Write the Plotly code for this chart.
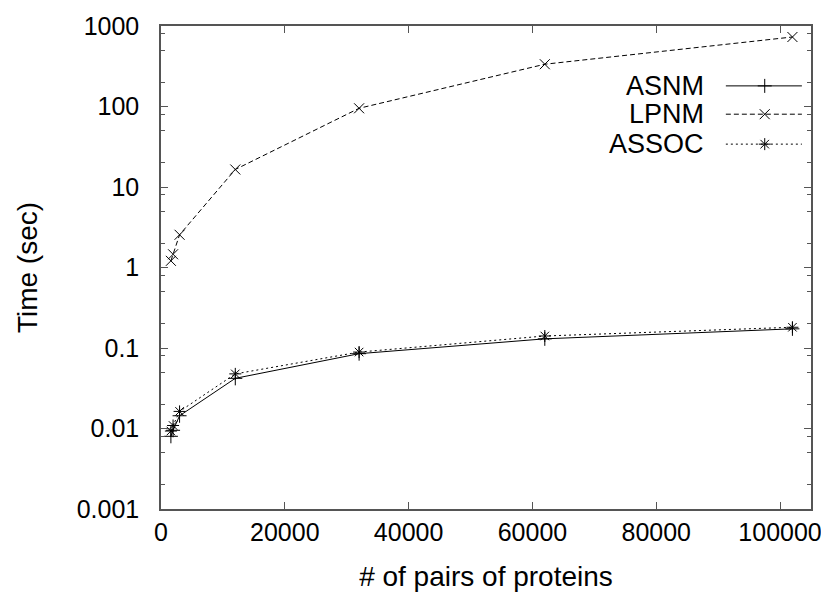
import plotly.graph_objects as go

# ---- data ----
pairs = [1600, 1950, 3000, 12000, 32000, 62000, 102000]
asnm = [0.0080, 0.0095, 0.0144, 0.042, 0.085, 0.130, 0.173]
lpnm = [1.21, 1.46, 2.55, 16.5, 95, 335, 730]
assoc = [0.0093, 0.0109, 0.0163, 0.0477, 0.089, 0.141, 0.181]

series_names = ["ASNM", "LPNM", "ASSOC"]
series_values = [asnm, lpnm, assoc]
series_dash = ["solid", "5px,3px", "2px,3px"]
series_symbol = ["cross-thin-open", "x-thin-open", "asterisk-open"]

x_ticks = [0, 20000, 40000, 60000, 80000, 100000]
y_ticks = [0.001, 0.01, 0.1, 1, 10, 100, 1000]
y_ticklabels = ["0.001", "0.01", "0.1", "1", "10", "100", "1000"]
y_minor = [m * 10 ** k for k in range(-3, 3) for m in (2, 5, 8)]

FONT = "Liberation Sans, Arial, Helvetica, sans-serif"
AXC = "#555555"

fig = go.Figure()
for name, vals, dash, sym in zip(series_names, series_values, series_dash, series_symbol):
    fig.add_trace(go.Scatter(
        x=pairs, y=vals, name=name, mode="lines+markers",
        line=dict(color="black", width=1, dash=dash),
        marker=dict(symbol=sym, size=10, color="black", line=dict(color="black", width=1)),
        showlegend=False,
    ))

# custom legend (text on the left, sample on the right) on an overlay axis
leg_y = [0.876, 0.8174, 0.7554]
for name, dash, sym, yy in zip(series_names, series_dash, series_symbol, leg_y):
    fig.add_trace(go.Scatter(
        x=[0.869, 0.986], y=[yy, yy], mode="lines", xaxis="x2", yaxis="y2",
        line=dict(color="black", width=1, dash=dash), showlegend=False, hoverinfo="skip"))
    fig.add_trace(go.Scatter(
        x=[0.9288], y=[yy], mode="markers", xaxis="x2", yaxis="y2",
        marker=dict(symbol=sym, size=10, color="black", line=dict(color="black", width=1)),
        showlegend=False, hoverinfo="skip"))
    fig.add_annotation(x=0.838, y=yy, xref="paper", yref="paper", text=name,
                       showarrow=False, xanchor="right", yanchor="middle",
                       font=dict(family=FONT, size=27, color="black"))

fig.update_layout(
    width=829, height=597,
    margin=dict(l=153, r=26, t=18, b=96, autoexpand=False),
    paper_bgcolor="white", plot_bgcolor="white",
    font=dict(family=FONT, size=25, color="black"),
    xaxis=dict(
        range=[0, 105000], tickvals=x_ticks, ticktext=[str(v) for v in x_ticks],
        ticks="inside", ticklen=7, tickwidth=1, tickcolor=AXC,
        showline=True, linecolor=AXC, linewidth=1.5, mirror="ticks",
        showgrid=False, zeroline=False, ticklabelstandoff=0, automargin=False,
        title=dict(text="# of pairs of proteins", standoff=22, font=dict(size=28)),
    ),
    yaxis=dict(
        type="log", range=[-3, 3], tickvals=y_ticks, ticktext=y_ticklabels,
        ticks="inside", ticklen=7, tickwidth=1, tickcolor=AXC,
        minor=dict(tickvals=y_minor, ticks="inside", ticklen=4, tickcolor=AXC, showgrid=False),
        showline=True, linecolor=AXC, linewidth=1.5, mirror="ticks",
        showgrid=False, zeroline=False, ticklabelstandoff=15, automargin=False,
        title=dict(text="Time (sec)", standoff=31, font=dict(size=28)),
    ),
    xaxis2=dict(range=[0, 1], overlaying="x", visible=False, fixedrange=True),
    yaxis2=dict(range=[0, 1], overlaying="y", visible=False, fixedrange=True),
)

fig.write_html("out.html")
